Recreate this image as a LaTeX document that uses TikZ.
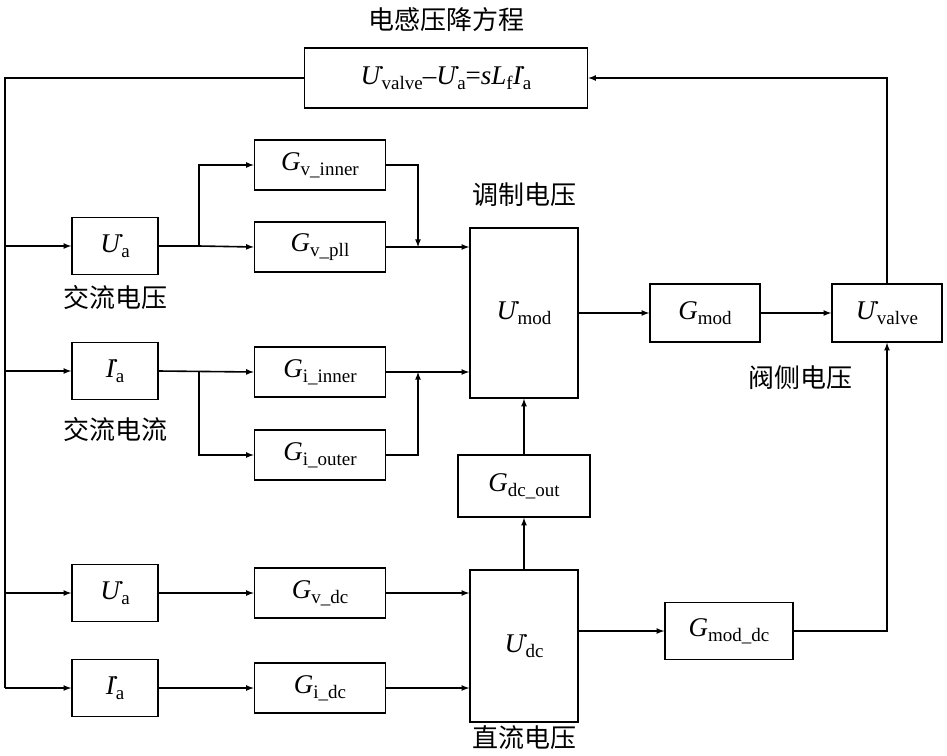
\documentclass[tikz,border=0pt]{standalone}
\usepackage{fontspec}
\setmainfont{Liberation Serif}
\newfontfamily\cjk{Noto Sans CJK SC}
\usetikzlibrary{positioning}
\newcommand{\lowtext}[1]{\raisebox{-0.4ex}{\fontsize{19}{20}\selectfont #1}}
\newcommand{\dotU}{\.{\textit{U}}}
\newcommand{\dotI}{\.{\textit{I}}}
\begin{document}
\begin{tikzpicture}[
            >=latex,
            x=1pt, y=-1pt,
            line width=1.6pt,
            font=\fontsize{27}{30}\selectfont,
            block/.style={draw, rectangle, minimum height=50pt, inner sep=2pt},
            blocklabel/.style={font=\cjk\fontsize{26}{30}\selectfont}
        ]
        \useasboundingbox (0,0) rectangle (947,755);

        %Title block

        \node[block, minimum width=283pt, minimum height=60pt] (eq) at (446,78) {\dotU\lowtext{valve}–\dotU\lowtext{a}=\textit{sL}\lowtext{f}\dotI\lowtext{a}};
        \node[blocklabel] (eqlabel) at (446,20) {电感压降方程};

        %% Inputs

        \node[block, minimum width=86pt, minimum height=57pt] (ua1) at (115,246) {\dotU\lowtext{a}};
        \node[block, minimum width=86pt, minimum height=57pt] (ia1) at (115,371) {\dotI\lowtext{a}};
        \node[block, minimum width=86pt, minimum height=57pt] (ua2) at (115,593) {\dotU\lowtext{a}};
        \node[block, minimum width=86pt, minimum height=57pt] (ia2) at (115,688) {\dotI\lowtext{a}};
        \node[blocklabel] at (115,298) {交流电压};
        \node[blocklabel] at (115,430) {交流电流};

        %% Controllers

        \node[block, minimum width=131pt] (gvin) at (320,165) {\textit{G}\lowtext{v\_inner}};
        \node[block, minimum width=131pt] (gvpll) at (320,247) {\textit{G}\lowtext{v\_pll}};
        \node[block, minimum width=131pt] (giin) at (320,372) {\textit{G}\lowtext{i\_inner}};
        \node[block, minimum width=131pt] (giout) at (320,455) {\textit{G}\lowtext{i\_outer}};
        \node[block, minimum width=131pt] (gvdc) at (320,593) {\textit{G}\lowtext{v\_dc}};
        \node[block, minimum width=131pt] (gidc) at (320,688) {\textit{G}\lowtext{i\_dc}};

        %% Modulation

        \node[block, minimum width=108pt, minimum height=170pt] (umod) at (524,313) {\dotU\lowtext{mod}};
        \node[block, minimum width=108pt, minimum height=152pt] (udc) at (524,646) {\dotU\lowtext{dc}};
        \node[block, minimum width=132pt, minimum height=62pt] (gdcout) at (524,486) {\textit{G}\lowtext{dc\_out}};
        \node[block, minimum width=110pt, minimum height=58pt] (gmod) at (705,313) {\textit{G}\lowtext{mod}};
        \node[block, minimum width=110pt, minimum height=58pt] (uvalve) at (887,313) {\dotU\lowtext{valve}};
        \node[block, minimum width=128pt, minimum height=57pt] (gmoddc) at (729,631) {\textit{G}\lowtext{mod\_dc}};
        \node[blocklabel] at (524,195) {调制电压};
        \node[blocklabel] at (800,378) {阀侧电压};
        \node[blocklabel] at (524,738) {直流电压};

        %% Feedback bus

        \coordinate (bustop) at (5,78);
        \coordinate (busbot) at (5,688);
        \draw (eq.west) -- (bustop) -- (busbot);
        \draw[->] (uvalve.north) |- (eq.east);
        \foreach \blk in {ua1,ia1,ua2,ia2}
            \draw[->] (5,0 |- \blk.west) -- (\blk.west);

        %% Branches

        \coordinate (vsplit) at (199,246);
        \coordinate (isplit) at (199,372);
        \draw (ua1.east) -- (vsplit);
        \draw[->] (vsplit) |- (gvin.west);
        \draw[->] (vsplit) -- (gvpll.west);
        \draw[->] (ia1.east) -- (giin.west);
        \draw[->] (isplit) |- (giout.west);

        \coordinate (vjoin) at (418,247);
        \coordinate (ijoin) at (418,372);
        \draw[->] (gvin.east) -| (vjoin);
        \draw[->] (gvpll.east) -- (gvpll.east -| umod.west);
        \draw[->] (giout.east) -| (ijoin);
        \draw[->] (giin.east) -- (giin.east -| umod.west);

        \draw[->] (gvdc.east) -- (gvdc.east -| udc.west);
        \draw[->] (gidc.east) -- (gidc.east -| udc.west);
        \draw[->] (ua2.east) -- (gvdc.west);
        \draw[->] (ia2.east) -- (gidc.west);

        %% Outputs

        \draw[->] (udc.north) -- (gdcout.south);
        \draw[->] (gdcout.north) -- (umod.south);
        \draw[->] (umod.east) -- (gmod.west);
        \draw[->] (gmod.east) -- (uvalve.west);
        \draw[->] (udc.east |- gmoddc.west) -- (gmoddc.west);
        \draw[->] (gmoddc.east) -| (uvalve.south);

    \end{tikzpicture}
\end{document}
